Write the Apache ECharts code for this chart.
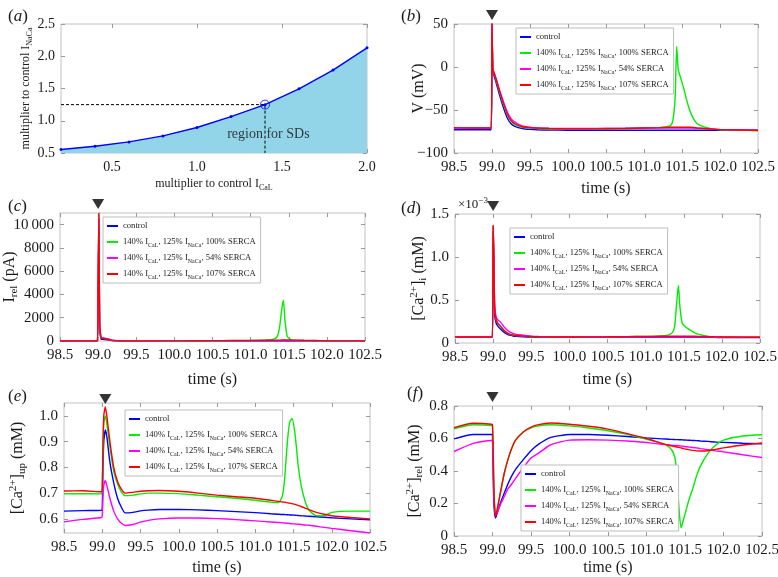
<!DOCTYPE html>
<html><head><meta charset="utf-8">
<script src="https://cdn.jsdelivr.net/npm/echarts@6/dist/echarts.min.js"></script>
<style>html,body{margin:0;padding:0;background:#fff}#c{width:778px;height:577px}</style>
</head><body><div id="c"></div>
<script>
// ---------- DATA ----------
// panel (a)
const aX = [0.2, 0.4, 0.6, 0.8, 1.0, 1.2, 1.4, 1.6, 1.8, 2.0];
const aY = [0.555, 0.605, 0.672, 0.765, 0.895, 1.065, 1.25, 1.495, 1.785, 2.13];
const aMarker = [1.4, 1.25];
const aXTicks = [0.5, 1.0, 1.5, 2.0];
const aText = 'region for SDs';

// shared time grid (s) for panels (b)-(f)
const time = [98.5,98.75,98.99,99.0,99.01,99.02,99.04,99.06,99.1,99.15,99.2,99.25,99.3,99.4,99.5,99.6,99.75,100.0,100.25,100.5,100.75,101.0,101.2,101.3,101.35,101.38,101.41,101.43,101.45,101.48,101.52,101.56,101.6,101.65,101.7,101.8,101.9,102.0,102.25,102.5];
const seriesNames = ['control', '140% I_CaL, 125% I_NaCa, 100% SERCA', '140% I_CaL, 125% I_NaCa, 54% SERCA', '140% I_CaL, 125% I_NaCa, 107% SERCA'];
const stimTime = 99.0;

// (b) V (mV)
const bControl = [-73,-73,-73,48,-5,-8,-14,-20,-33,-47,-59,-66,-69,-71.5,-72.5,-73,-73.3,-73.5,-73.5,-73.5,-73.5,-73.5,-73.5,-73.5,-73.5,-73.5,-73.5,-73.5,-73.5,-73.5,-73.5,-73.5,-73.5,-73.5,-73.5,-73.5,-73.5,-73.5,-73.5,-73.5];
const bGreen = [-71,-71,-71,50,-3,-6,-11,-17,-29,-43,-55,-63,-67,-70,-71,-71.5,-72,-72,-72,-71.8,-71.5,-71,-70.5,-69.5,-68,-62,-35,24,-3,-12,-24,-38,-50,-60,-66,-70,-72,-73,-73.5,-73.8];
const bMagenta = [-71,-71,-71,50,-2,-5,-10,-15,-27,-40,-52,-60,-64,-68.5,-70,-70.8,-71.3,-71.5,-71.5,-71.3,-71.2,-71,-71,-71,-71,-71,-71,-71,-71,-71,-71,-71,-71,-71,-71.2,-71.6,-72,-72.5,-73,-73.5];
const bRed = [-70.5,-71,-71,52,-2,-5,-10,-16,-28,-42,-54,-62,-66,-69.5,-70.5,-71,-71.5,-72,-72,-71.8,-71.5,-71,-70.5,-70.2,-70,-70,-70,-70,-70,-70,-70,-70,-70,-70.3,-70.8,-71.5,-72.2,-72.8,-73.3,-73.8];

// (c) I_rel (pA)
const cControl = [0,0,0,4000,9500,1000,150,150,130,80,20,8,4,2,0,0,0,0,0,0,0,0,0,0,0,0,0,0,0,0,0,0,0,0,0,0,0,0,0,0];
const cGreen = [0,0,0,5000,10800,1400,240,230,200,100,30,10,5,2,0,0,0,0,5,10,20,40,80,150,400,1200,2800,3500,1800,400,150,80,60,45,30,10,5,0,0,0];
const cMagenta = [10,10,10,4500,10500,1300,260,250,230,150,60,30,20,15,12,10,10,10,10,10,10,10,10,10,10,10,10,10,10,10,10,10,10,10,10,10,10,10,10,10];
const cRed = [0,0,0,5500,11000,1600,250,240,210,100,30,10,5,2,0,0,5,10,20,30,40,50,60,70,75,78,80,80,80,80,80,78,75,70,60,45,30,20,10,5];
const cTicks = [0, 2000, 4000, 6000, 8000, 10000];

// (d) [Ca2+]_i (x1e-3 mM)
const dControl = [0.065,0.065,0.065,1.3,0.9,0.33,0.23,0.2,0.16,0.12,0.095,0.085,0.078,0.072,0.068,0.066,0.065,0.065,0.065,0.065,0.065,0.065,0.065,0.065,0.065,0.065,0.065,0.065,0.065,0.065,0.065,0.065,0.065,0.065,0.065,0.065,0.065,0.064,0.064,0.063];
const dGreen = [0.07,0.07,0.07,1.36,1.0,0.4,0.27,0.23,0.19,0.14,0.11,0.095,0.088,0.08,0.075,0.072,0.07,0.07,0.071,0.072,0.074,0.077,0.082,0.095,0.12,0.19,0.5,0.67,0.42,0.23,0.19,0.165,0.14,0.115,0.1,0.08,0.073,0.07,0.068,0.066];
const dMagenta = [0.07,0.07,0.07,1.35,1.0,0.45,0.3,0.27,0.24,0.18,0.14,0.115,0.1,0.09,0.08,0.075,0.071,0.069,0.069,0.07,0.07,0.07,0.07,0.07,0.07,0.07,0.07,0.07,0.07,0.07,0.07,0.07,0.07,0.07,0.07,0.07,0.07,0.069,0.068,0.068];
const dRed = [0.07,0.07,0.07,1.37,1.0,0.4,0.27,0.23,0.19,0.14,0.11,0.095,0.088,0.08,0.075,0.072,0.07,0.07,0.071,0.072,0.074,0.076,0.078,0.078,0.078,0.078,0.078,0.078,0.078,0.078,0.078,0.078,0.078,0.078,0.077,0.075,0.072,0.07,0.068,0.066];

// (e) [Ca2+]_up (mM)
const eControl = [0.63,0.632,0.633,0.64,0.8,0.9,0.945,0.92,0.82,0.74,0.68,0.645,0.623,0.625,0.631,0.634,0.636,0.636,0.635,0.632,0.628,0.624,0.62,0.618,0.617,0.617,0.616,0.616,0.615,0.615,0.614,0.613,0.612,0.611,0.61,0.608,0.606,0.604,0.6,0.596];
const eGreen = [0.697,0.698,0.697,0.71,0.88,0.97,1.0,0.97,0.88,0.785,0.735,0.705,0.69,0.692,0.697,0.7,0.7,0.698,0.692,0.686,0.68,0.672,0.665,0.663,0.685,0.74,0.86,0.93,0.975,0.99,0.93,0.81,0.73,0.67,0.635,0.612,0.612,0.625,0.63,0.63];
const eMagenta = [0.588,0.598,0.605,0.61,0.69,0.73,0.748,0.73,0.68,0.63,0.6,0.583,0.574,0.578,0.587,0.594,0.6,0.603,0.603,0.601,0.597,0.592,0.588,0.586,0.585,0.584,0.583,0.583,0.582,0.581,0.58,0.579,0.578,0.576,0.575,0.571,0.567,0.563,0.554,0.545];
const eRed = [0.708,0.709,0.705,0.72,0.9,1.0,1.035,1.0,0.9,0.8,0.745,0.715,0.7,0.703,0.707,0.709,0.71,0.707,0.7,0.692,0.686,0.68,0.672,0.668,0.666,0.665,0.663,0.662,0.661,0.659,0.656,0.652,0.648,0.642,0.636,0.625,0.618,0.612,0.605,0.6];
const eTicks = [0.6, 0.7, 0.8, 0.9, 1.0];

// (f) [Ca2+]_rel (mM)
const fControl = [0.598,0.625,0.625,0.61,0.35,0.18,0.11,0.14,0.2,0.26,0.32,0.37,0.41,0.47,0.525,0.565,0.605,0.625,0.625,0.62,0.612,0.604,0.598,0.595,0.594,0.593,0.593,0.592,0.592,0.591,0.59,0.589,0.588,0.587,0.585,0.582,0.578,0.576,0.571,0.567];
const fGreen = [0.66,0.685,0.68,0.675,0.5,0.26,0.13,0.16,0.26,0.38,0.47,0.54,0.59,0.64,0.665,0.678,0.685,0.678,0.665,0.648,0.625,0.595,0.57,0.545,0.51,0.45,0.25,0.12,0.05,0.1,0.17,0.235,0.29,0.37,0.43,0.51,0.56,0.59,0.615,0.623];
const fMagenta = [0.52,0.57,0.588,0.585,0.4,0.22,0.13,0.14,0.19,0.24,0.29,0.32,0.355,0.42,0.48,0.51,0.56,0.59,0.592,0.59,0.585,0.575,0.565,0.56,0.558,0.557,0.556,0.555,0.554,0.552,0.549,0.547,0.545,0.542,0.538,0.531,0.524,0.518,0.5,0.483];
const fRed = [0.667,0.694,0.688,0.682,0.5,0.25,0.12,0.16,0.26,0.38,0.47,0.54,0.59,0.64,0.67,0.685,0.695,0.688,0.675,0.658,0.63,0.6,0.57,0.557,0.552,0.549,0.546,0.544,0.542,0.538,0.534,0.53,0.527,0.524,0.523,0.525,0.533,0.542,0.56,0.572];

// ---------- STYLE / LAYOUT ----------
const FONT = '"Liberation Serif","Times New Roman",serif';
const COLORS = ['#0000ff', '#00ee00', '#ff00ff', '#ff0000'];
const AXC = '#c2c2c2';
const TXT = '#1a1a1a';

const richBase = {
  n: {fontFamily: FONT, fontSize: 16, lineHeight: 20, color: TXT},
  s: {fontFamily: FONT, fontSize: 11, lineHeight: 11, verticalAlign: 'bottom', color: TXT},
  sp: {fontFamily: FONT, fontSize: 11, lineHeight: 11, verticalAlign: 'top', color: TXT}
};

const option = {
  animation: false,
  backgroundColor: '#fff',
  title: [], legend: [], grid: [], xAxis: [], yAxis: [], series: []
};

function addAxes(gi, g, x, y) {
  option.grid.push({left: g[0], top: g[1], width: g[2], height: g[3], show: true,
    borderColor: AXC, borderWidth: 1, backgroundColor: '#fff', containLabel: false, outerBoundsMode: 'none'});
  const tick = {show: true, inside: true, length: 4, lineStyle: {color: '#9a9a9a', width: 1}};
  const line = {show: false, onZero: false};
  const xBase = {gridIndex: gi, type: 'value', min: x.min, max: x.max, splitLine: {show: false}, axisLine: line};
  if (x.interval) xBase.interval = x.interval;
  const xMain = Object.assign({}, xBase, {position: 'bottom',
    axisTick: Object.assign({}, tick, x.custom ? {customValues: x.custom} : {}),
    axisLabel: Object.assign({fontFamily: FONT, fontSize: x.fs || 15, color: TXT, margin: 7, formatter: x.fmt, showMinLabel: true, showMaxLabel: true}, x.custom ? {customValues: x.custom} : {}),
    name: x.name, nameLocation: 'middle', nameGap: x.gap, nameMoveOverlap: false,
    nameTextStyle: {rich: x.rich || richBase}});
  const xTop = Object.assign({}, xBase, {position: 'top',
    axisTick: Object.assign({}, tick, x.custom ? {customValues: x.custom} : {}),
    axisLabel: {show: false}});
  option.xAxis.push(xMain, xTop);
  const yBase = {gridIndex: gi, type: 'value', min: y.min, max: y.max, splitLine: {show: false}, axisLine: line};
  if (y.interval) yBase.interval = y.interval;
  const yMain = Object.assign({}, yBase, {position: 'left',
    axisTick: Object.assign({}, tick, y.custom ? {customValues: y.custom} : {}),
    axisLabel: Object.assign({fontFamily: FONT, fontSize: y.fs || 15, color: TXT, margin: 6, formatter: y.fmt, showMinLabel: true, showMaxLabel: true}, y.custom ? {customValues: y.custom} : {}),
    name: y.name, nameLocation: 'middle', nameGap: y.gap, nameRotate: 90, nameMoveOverlap: false,
    nameTextStyle: {rich: y.rich || richBase}});
  const yRight = Object.assign({}, yBase, {position: 'right',
    axisTick: Object.assign({}, tick, y.custom ? {customValues: y.custom} : {}),
    axisLabel: {show: false}});
  option.yAxis.push(yMain, yRight);
  return gi * 2;
}

function addTitle(letter, left, top) {
  option.title.push({text: '({i|' + letter + '})', left: left, top: top,
    textStyle: {fontFamily: FONT, fontSize: 17, fontWeight: 'normal', color: TXT,
      rich: {i: {fontFamily: FONT, fontSize: 17, fontStyle: 'italic', color: TXT}}}});
}

const legendFmt = n => n.replace(/I_(\w+)/g, 'I{s|$1}');

function addLegend(left, top) {
  option.legend.push({orient: 'vertical', left: left, top: top, data: seriesNames,
    selectedMode: false, icon: 'rect', itemWidth: 11, itemHeight: 2, itemGap: 4,
    padding: [3, 5, 3, 4], borderColor: '#bdbdbd', borderWidth: 1, backgroundColor: '#fff',
    formatter: legendFmt,
    textStyle: {fontFamily: FONT, fontSize: 8.6, color: TXT, lineHeight: 12,
      rich: {s: {fontFamily: FONT, fontSize: 6, lineHeight: 6, verticalAlign: 'bottom', color: TXT}}}});
}

const timeFmt = v => v.toFixed(1);
const timeAxis = (gap) => ({min: 98.5, max: 102.5, interval: 0.5, fmt: timeFmt, name: '{n|time (s)}', gap: gap});

function addPanel(gi, g, yCfg, sets, triOff, triT, xGap) {
  const ai = addAxes(gi, g, timeAxis(xGap), yCfg);
  sets.forEach((vals, k) => {
    option.series.push({type: 'line', name: seriesNames[k], xAxisIndex: ai, yAxisIndex: ai,
      data: time.map((t, j) => [t, vals[j]]), showSymbol: false, symbol: 'none',
      smooth: 0.2, lineStyle: {width: 1.4, color: COLORS[k]}, itemStyle: {color: COLORS[k]}, silent: true});
  });
  option.series.push({type: 'scatter', xAxisIndex: ai, yAxisIndex: ai, data: [[triT, yCfg.max]],
    symbol: 'path://M0,0L12,0L6,10Z', symbolSize: [12, 10], symbolOffset: [0, triOff],
    itemStyle: {color: '#000'}, clip: false, silent: true, z: 6});
}

// ----- panel (a)
{
  const subA = {s: {fontFamily: FONT, fontSize: 8, lineHeight: 8, verticalAlign: 'bottom', color: TXT}};
  const ai = addAxes(0, [61, 24, 306, 129],
    {min: 0.2, max: 2.0, custom: aXTicks, fmt: v => v.toFixed(1), fs: 14,
     name: 'multiplier to control I{s|CaL}', gap: 23, rich: subA},
    {min: 0.5, max: 2.5, interval: 0.5, fmt: v => v.toFixed(1), fs: 14,
     name: 'multiplier to control I{s|NaCa}', gap: 27, rich: subA});
  [option.xAxis[ai], option.yAxis[ai]].forEach(ax => Object.assign(ax.nameTextStyle,
    {fontFamily: FONT, fontSize: 12, lineHeight: 16, color: TXT}));
  option.series.push({type: 'line', xAxisIndex: ai, yAxisIndex: ai,
    data: aX.map((x, i) => [x, aY[i]]), symbol: 'circle', symbolSize: 3, showSymbol: true,
    lineStyle: {color: '#0000ff', width: 1.4}, itemStyle: {color: '#0000ff'},
    areaStyle: {color: '#92d5e8', opacity: 1, origin: 'start'}, silent: true});
  option.series.push({type: 'line', xAxisIndex: ai, yAxisIndex: ai,
    data: [[aX[0], aMarker[1]], aMarker, [aMarker[0], 0.5]], symbol: 'none',
    lineStyle: {color: '#000', width: 1, type: [3, 2]}, silent: true, z: 3});
  option.series.push({type: 'scatter', xAxisIndex: ai, yAxisIndex: ai, data: [aMarker],
    symbol: 'circle', symbolSize: 9, itemStyle: {color: 'rgba(0,0,0,0)', borderColor: '#0000ff', borderWidth: 1}, silent: true, z: 4});
  option.series.push({type: 'scatter', xAxisIndex: ai, yAxisIndex: ai, data: [[1.42, 0.79]],
    symbolSize: 0, silent: true, z: 5,
    label: {show: true, position: 'inside', formatter: aText, fontFamily: FONT, fontSize: 14, color: '#111'}});
  addTitle('a', 3, 3);
}

// ----- panel (b)
addPanel(1, [454, 24, 304, 129],
  {min: -100, max: 50, interval: 50, fmt: v => String(v).replace('-', '\u2212'), name: '{n|V (mV)}', gap: 25},
  [bControl, bGreen, bMagenta, bRed], -9, stimTime, 26);
addLegend(516, 28);
addTitle('b', 396, 3);

// ----- panel (c)
addPanel(2, [60, 213, 305, 128],
  {min: 0, max: 11000, custom: cTicks, fmt: v => v >= 10000 ? String(v).replace(/(\d\d)(\d{3})$/, '$1\u2009$2') : String(v),
   name: '{n|I}{s|rel}{n| (pA)}', gap: 40},
  [cControl, cGreen, cMagenta, cRed], -9, stimTime, 29);
addLegend(103, 217);
addTitle('c', 3, 193);

// ----- panel (d)
addPanel(3, [455, 214, 305, 129],
  {min: 0, max: 1.5, interval: 0.5, fmt: v => v === 0 ? '0' : v.toFixed(1),
   name: '{n|[Ca}{sp|2+}{n|]}{s|i}{n| (mM)}', gap: 26},
  [dControl, dGreen, dMagenta, dRed], -8, stimTime, 27);
addLegend(510, 228);
addTitle('d', 396, 195);
option.title.push({text: '\u00d710{sp|\u22123}', left: 453, top: 191,
  textStyle: {fontFamily: FONT, fontSize: 13, fontWeight: 'normal', color: TXT, lineHeight: 18,
    rich: {sp: {fontFamily: FONT, fontSize: 9, lineHeight: 10, verticalAlign: 'top', color: TXT}}}});

// ----- panel (e)
addPanel(4, [64, 403, 306, 130],
  {min: 0.545, max: 1.05, custom: eTicks, fmt: v => v.toFixed(1),
   name: '{n|[Ca}{sp|2+}{n|]}{s|up}{n| (mM)}', gap: 36},
  [eControl, eGreen, eMagenta, eRed], -4, 99.04, 25);
addLegend(125, 410);
addTitle('e', 3, 383);

// ----- panel (f)
addPanel(5, [454, 406, 308, 130],
  {min: 0, max: 0.8, interval: 0.2, fmt: v => v === 0 ? '0' : v.toFixed(1),
   name: '{n|[Ca}{sp|2+}{n|]}{s|rel}{n| (mM)}', gap: 29},
  [fControl, fGreen, fMagenta, fRed], -9, stimTime, 22);
addLegend(521, 465);
addTitle('f', 402, 380);

const chart = echarts.init(document.getElementById('c'), null, {renderer: 'canvas'});
chart.setOption(option);
</script></body></html>
